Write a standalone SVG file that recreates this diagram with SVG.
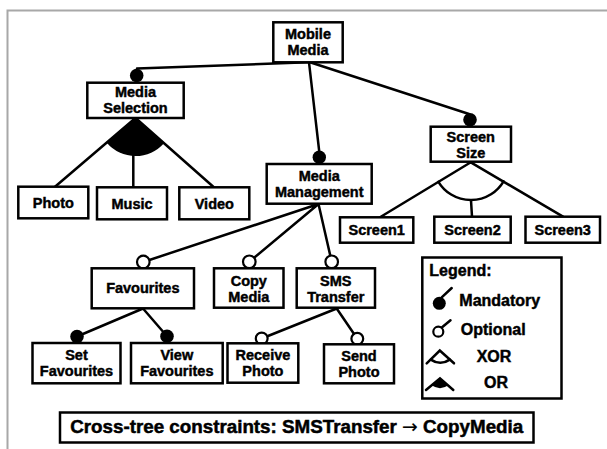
<svg xmlns="http://www.w3.org/2000/svg" width="607" height="449" viewBox="0 0 607 449">
<style>
.box{fill:#fff;stroke:#000;stroke-width:2.5}
.lbl{font-family:"Liberation Sans",Arial,sans-serif;font-weight:bold;font-size:14.5px;text-anchor:middle;fill:#000;stroke:#000;stroke-width:0.45}
.leg{font-family:"Liberation Sans",Arial,sans-serif;font-weight:bold;font-size:16px;fill:#000;stroke:#000;stroke-width:0.45}
.ct{font-family:"Liberation Sans",Arial,sans-serif;font-weight:bold;font-size:18.8px;text-anchor:middle;fill:#000;stroke:#000;stroke-width:0.5}
.con{stroke:#000;stroke-width:2.5;fill:none;stroke-linecap:round}
.man{fill:#000}
.opt{fill:#fff;stroke:#000;stroke-width:2.2}
</style>
<rect width="607" height="449" fill="#fff"/>
<path d="M7.5,449 L7.5,10.5 L607,10.5" fill="none" stroke="#a8a8a8" stroke-width="2"/>
<g id="connectors">
  <path class="con" d="M308,62.3 L137,68.5"/>
  <path class="con" d="M309,62.3 L319.3,152"/>
  <path class="con" d="M310,62.3 L469,114"/>
  <path class="con" d="M135.5,118 L55,186.7 M133.3,118 L133.3,187 M135.5,118 L213.3,186.7"/>
  <path class="man" d="M135.5,118 L106.7,142.8 A38,38 0 0 0 164.2,143 Z"/>
  <path class="con" d="M470.8,162.3 L380,217.3 M470.8,162.3 L563,216.7 M471,200.3 L472,216.7"/>
  <path class="con" d="M438.4,181.8 A38,38 0 0 0 503.6,181.4"/>
  <path class="con" d="M318.5,204 L143.3,262 M318.5,204 L249.3,261.8 M318.5,204 L331.7,261.8"/>
  <path class="con" d="M143,308.5 L77,336.5 M143,308.5 L167,336.2"/>
  <path class="con" d="M336.7,308.5 L261.7,338.5 M336.7,308.5 L357.3,338.8"/>
  <circle class="man" cx="136.7" cy="75.5" r="6.8"/>
  <circle class="man" cx="319.3" cy="157.3" r="6.7"/>
  <circle class="man" cx="470" cy="119.8" r="6.8"/>
  <circle class="opt" cx="143.3" cy="262" r="6.3"/>
  <circle class="opt" cx="249.3" cy="261.8" r="6.3"/>
  <circle class="opt" cx="331.7" cy="261.8" r="6.3"/>
  <circle class="man" cx="77" cy="336.5" r="6.8"/>
  <circle class="man" cx="167" cy="336.2" r="6.8"/>
  <circle class="opt" cx="261.7" cy="338.5" r="5.9"/>
  <circle class="opt" cx="357.3" cy="338.8" r="5.9"/>
</g>
<g id="mobile-media"><rect class="box" x="273.3" y="22.3" width="69.4" height="40"/><text class="lbl" x="308" y="39.2">Mobile</text><text class="lbl" x="308" y="55">Media</text></g>
<g id="media-selection"><rect class="box" x="87.3" y="82.7" width="96.4" height="35.3"/><text class="lbl" x="135.5" y="97.2">Media</text><text class="lbl" x="135.5" y="113.3">Selection</text></g>
<g id="photo"><rect class="box" x="18.3" y="186.7" width="70" height="31.6"/><text class="lbl" x="53.3" y="208">Photo</text></g>
<g id="music"><rect class="box" x="97" y="187.3" width="70" height="32"/><text class="lbl" x="132" y="208.5">Music</text></g>
<g id="video"><rect class="box" x="179.3" y="187.3" width="70" height="32"/><text class="lbl" x="214.3" y="208.5">Video</text></g>
<g id="media-management"><rect class="box" x="266.7" y="164" width="105" height="39.7"/><text class="lbl" x="319.2" y="180.5">Media</text><text class="lbl" x="319.2" y="196.7">Management</text></g>
<g id="screen-size"><rect class="box" x="430.7" y="126.7" width="80.3" height="35"/><text class="lbl" x="470.8" y="141.5">Screen</text><text class="lbl" x="470.8" y="157.5">Size</text></g>
<g id="screen1"><rect class="box" x="340" y="217.3" width="73.3" height="25.4"/><text class="lbl" x="376.7" y="235">Screen1</text></g>
<g id="screen2"><rect class="box" x="434.3" y="216.7" width="76.4" height="26"/><text class="lbl" x="472.5" y="235">Screen2</text></g>
<g id="screen3"><rect class="box" x="525.5" y="216.7" width="74.5" height="26"/><text class="lbl" x="562.7" y="235">Screen3</text></g>
<g id="favourites"><rect class="box" x="91.7" y="268.3" width="102.3" height="40"/><text class="lbl" x="142.8" y="293.3">Favourites</text></g>
<g id="copy-media"><rect class="box" x="214" y="268.3" width="69.5" height="39.4"/><text class="lbl" x="248.8" y="285.5">Copy</text><text class="lbl" x="248.8" y="301.5">Media</text></g>
<g id="sms-transfer"><rect class="box" x="296.7" y="268.3" width="78.3" height="39.4"/><text class="lbl" x="335.8" y="285.5">SMS</text><text class="lbl" x="335.8" y="301.5">Transfer</text></g>
<g id="set-favourites"><rect class="box" x="32.5" y="343" width="88" height="40.3"/><text class="lbl" x="76.5" y="360">Set</text><text class="lbl" x="76.5" y="376.2">Favourites</text></g>
<g id="view-favourites"><rect class="box" x="131" y="343" width="91.7" height="40.3"/><text class="lbl" x="176.8" y="360">View</text><text class="lbl" x="176.8" y="376.2">Favourites</text></g>
<g id="receive-photo"><rect class="box" x="227.5" y="343.3" width="70.8" height="39.4"/><text class="lbl" x="262.9" y="360.3">Receive</text><text class="lbl" x="262.9" y="376.4">Photo</text></g>
<g id="send-photo"><rect class="box" x="324" y="344.3" width="70" height="39"/><text class="lbl" x="359" y="361">Send</text><text class="lbl" x="359" y="377.2">Photo</text></g>
<g id="legend">
  <rect class="box" x="422.3" y="257.5" width="139.2" height="141"/>
  <text class="leg" x="429.3" y="276">Legend:</text>
  <circle class="man" cx="439.3" cy="303.3" r="6.5"/>
  <path class="con" d="M441.7,297.3 L451.7,288"/>
  <text class="leg" x="459.3" y="306">Mandatory</text>
  <circle class="opt" cx="438.3" cy="331.7" r="5"/>
  <path class="con" d="M441.8,327.5 L450.5,320.3"/>
  <text class="leg" x="460.7" y="335">Optional</text>
  <path class="con" d="M426.7,363.3 L439.8,350.5 L454,363.3"/>
  <path class="con" d="M430.8,359.6 Q440.3,366 449.8,359.6"/>
  <text class="leg" x="476.7" y="361.7">XOR</text>
  <path class="con" d="M426,390 L440,378.3 L453.3,390"/>
  <path class="man" d="M440,378.3 L431.6,385.3 Q440,391 448.4,385.3 Z"/>
  <text class="leg" x="484" y="388.3">OR</text>
</g>
<g id="cross-tree">
  <rect class="box" x="60" y="412.5" width="473.5" height="30" stroke-width="2.8"/>
  <text class="ct" x="296.7" y="432.7">Cross-tree constraints: SMSTransfer <tspan style="font-family:'DejaVu Sans',sans-serif;font-weight:normal;stroke-width:0.2">→</tspan> CopyMedia</text>
</g>
</svg>
